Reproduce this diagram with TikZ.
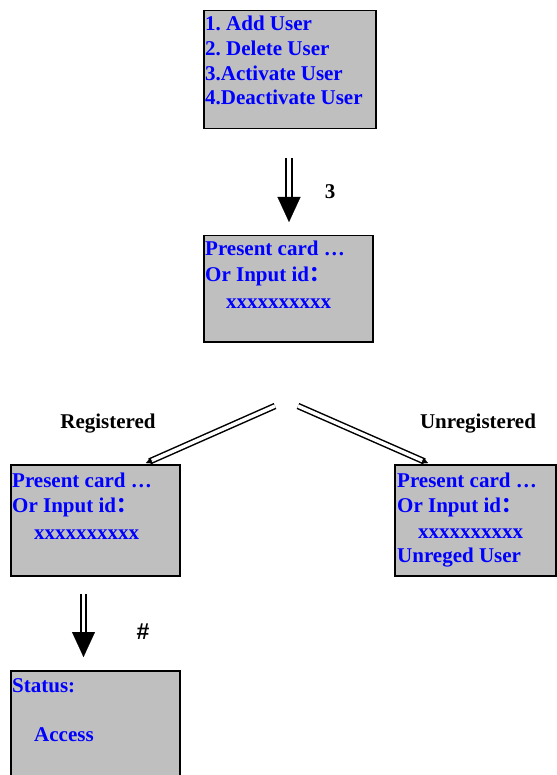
\documentclass[tikz,border=0pt]{standalone}
\usepackage{fontspec}
\setmainfont{Liberation Serif}
\setsansfont{Liberation Sans}
\newfontfamily\cjk{Noto Sans CJK SC}
\usetikzlibrary{arrows.meta,calc}
\definecolor{box-gray}{gray}{0.75}
\definecolor{menu-blue}{RGB}{0,0,255}
\newcommand*\idcolon{{\cjk ：}}
\newcommand*\scrfont{\frenchspacing\fontsize{21}{25}\selectfont\bfseries}

\begin{document}
\begin{tikzpicture}[x=1pt,y=-1pt,
	screen/.style={draw=black,line width=1.5pt,fill=box-gray,anchor=north west,inner sep=0pt},
	line/.style={anchor=base west,inner sep=0pt,text=menu-blue,font=\scrfont},
	tag/.style={anchor=base,inner sep=0pt,font=\scrfont},
	dbl/.style={double,double distance=3.5pt,line width=1.5pt},
	head/.style={-{Triangle[length=25pt,width=23pt]},line width=0.1pt},
	tip/.style={-{Triangle[length=6pt,width=6pt]},line width=0.1pt}]
	\useasboundingbox (0,0) rectangle (556,775);
	% screens
	\node[screen,minimum width=172pt,minimum height=118pt] (menu) at (203,10) {};
	\node[screen,minimum width=169pt,minimum height=106pt] (prompt) at (203,235) {};
	\node[screen,minimum width=169pt,minimum height=111pt] (regd) at (10,464) {};
	\node[screen,minimum width=161pt,minimum height=111pt] (unreg) at (394,464) {};
	\node[screen,minimum width=169pt,minimum height=115pt] (status) at (10,670) {};
	% screen texts
	\foreach \t [count=\i] in {1. Add User,2. Delete User,3.Activate User,4.Deactivate User}
		\node[line] (menu-\i) at (205,6+24.7*\i) {\t};
	\node[line] (prompt-1) at (205,255) {Present card …};
	\node[line] (prompt-2) at (205,281) {Or Input id\idcolon};
	\node[line] (prompt-3) at (226,308) {xxxxxxxxxx};
	\node[line] (regd-1) at (12,487) {Present card …};
	\node[line] (regd-2) at (12,512) {Or Input id\idcolon};
	\node[line] (regd-3) at (34,539) {xxxxxxxxxx};
	\node[line] (unreg-1) at (397,487) {Present card …};
	\node[line] (unreg-2) at (397,512) {Or Input id\idcolon};
	\node[line] (unreg-3) at (418,538) {xxxxxxxxxx};
	\node[line] (unreg-4) at (397,562) {Unreged User};
	\node[line] (status-1) at (12,692) {Status:};
	\node[line] (status-2) at (34,741) {Access};
	% key 3
	\coordinate (pick-a) at (289,158);
	\coordinate (pick-b) at (289,197);
	\coordinate (pick-c) at (289,222);
	\draw[dbl,double distance=4.5pt] (pick-a) -- (pick-b);
	\draw[head] (pick-b) -- (pick-c);
	\node[tag] (pick-key) at (330,199) {3};
	% fork
	\coordinate (fork-l) at (275,406);
	\coordinate (fork-r) at (298,406);
	\coordinate (regd-in) at (146,463);
	\coordinate (unreg-in) at (428,463);
	\draw[dbl,shorten >=4pt] (fork-l) -- (regd-in);
	\draw[dbl,shorten >=4pt] (fork-r) -- (unreg-in);
	\draw[tip] ($(regd-in)!7pt!(fork-l)$) -- (regd-in);
	\draw[tip] ($(unreg-in)!7pt!(fork-r)$) -- (unreg-in);
	\node[tag] (regd-tag) at (108,428) {Registered};
	\node[tag] (unreg-tag) at (478,428) {Unregistered};
	% key #
	\coordinate (hash-a) at (83.5,594);
	\coordinate (hash-b) at (83.5,633);
	\coordinate (hash-c) at (83.5,657);
	\draw[dbl] (hash-a) -- (hash-b);
	\draw[head] (hash-b) -- (hash-c);
	\node[tag,font=\sffamily\bfseries\fontsize{23}{25}\selectfont] (hash-key) at (143,639) {\#};
\end{tikzpicture}
\end{document}
